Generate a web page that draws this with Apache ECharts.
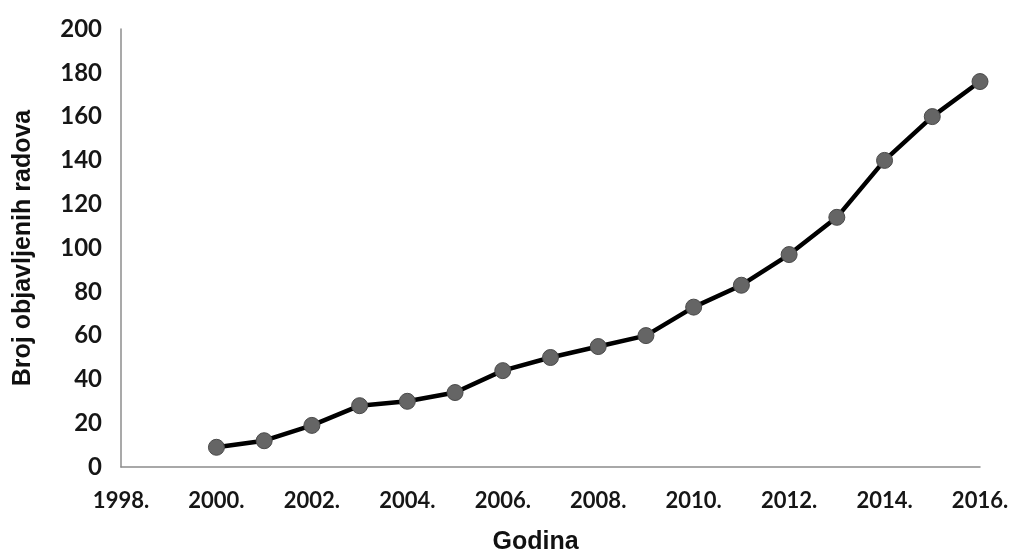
<!DOCTYPE html>
<html>
<head>
<meta charset="utf-8">
<script src="https://cdn.jsdelivr.net/npm/echarts@6/dist/echarts.min.js"></script>
<style>
html,body{margin:0;padding:0;background:#fff;}
#chart{width:1015px;height:552px;}
</style>
</head>
<body>
<div id="chart"></div>
<script>
const years = [2000,2001,2002,2003,2004,2005,2006,2007,2008,2009,2010,2011,2012,2013,2014,2015,2016];
const counts = [9,12,19,28,30,34,44,50,55,60,73,83,97,114,140,160,176];
const xAxisTitle = 'Godina';
const yAxisTitle = 'Broj objavljenih radova';

const chart = echarts.init(document.getElementById('chart'));
chart.setOption({
  animation:false,
  backgroundColor:'#ffffff',
  grid:{left:121, right:35, top:29, bottom:85, containLabel:false, outerBoundsMode:'none'},
  xAxis:{
    type:'value', min:1998, max:2016, interval:2,
    name:xAxisTitle, nameLocation:'middle', nameGap:63,
    nameTextStyle:{fontFamily:'Liberation Sans', fontWeight:'bold', fontSize:25, color:'#111', padding:[0,30,0,0]},
    axisLine:{show:true, lineStyle:{color:'#8c8c8c', width:1.5}},
    axisTick:{show:false},
    splitLine:{show:false},
    axisLabel:{margin:23, formatter:v=>v+'.', fontFamily:'Lato', fontWeight:'bold', fontSize:22, color:'#161616'}
  },
  yAxis:{
    type:'value', min:0, max:200, interval:20,
    name:yAxisTitle, nameLocation:'middle', nameGap:85, nameRotate:90,
    nameTextStyle:{fontFamily:'Liberation Sans', fontWeight:'bold', fontSize:25, color:'#111'},
    axisLine:{show:true, lineStyle:{color:'#8c8c8c', width:1.5}},
    axisTick:{show:false},
    splitLine:{show:false},
    axisLabel:{margin:19, fontFamily:'Lato', fontWeight:'bold', fontSize:24, color:'#161616'}
  },
  series:[{
    type:'line',
    data:years.map((y,i)=>[y,counts[i]]),
    symbol:'circle', symbolSize:16,
    lineStyle:{color:'#000', width:4.5},
    itemStyle:{color:'#656565', borderColor:'#4a4a4a', borderWidth:1}
  }]
});
</script>
</body>
</html>
